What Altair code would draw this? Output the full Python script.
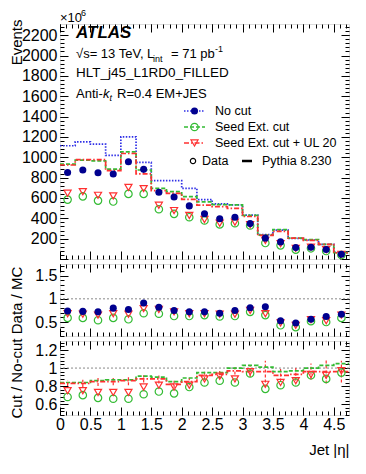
import altair as alt
import pandas as pd

FONT = "Liberation Sans"

# ---- data ----
edges = [0.0, 0.25, 0.5, 0.75, 1.0, 1.25, 1.5, 1.75, 2.0, 2.25, 2.5, 2.75,
         3.0, 3.25, 3.5, 3.75, 4.0, 4.25, 4.5, 4.75]

data_nocut = [851, 875, 848, 836, 956, 881, 656, 610, 522, 444, 395, 411, 348, 205, 168, 112, 116, 94, 46]
data_seed = [584, 616, 574, 565, 640, 640, 489, 444, 411, 379, 340, 352, 330, 157, 134, 92, 105, 78, 39]
data_ul20 = [646, 662, 626, 620, 704, 692, 528, 476, 428, 388, 352, 362, 337, 183, 150, 105, 117, 92, 46]
mc_nocut = [1113, 1152, 1129, 1018, 1201, 949, 770, 770, 695, 584, 542, 532, 431, 240, 284, 203, 187, 144, 65]
mc_seed = [933, 972, 965, 884, 1054, 875, 695, 662, 613, 561, 535, 532, 428, 235, 288, 205, 190, 144, 63]
mc_ul20 = [924, 976, 976, 868, 1037, 836, 672, 646, 587, 530, 515, 497, 418, 232, 271, 205, 183, 144, 60]

dmc_nocut = [0.74, 0.73, 0.72, 0.80, 0.77, 0.91, 0.82, 0.75, 0.72, 0.72, 0.69, 0.75, 0.81, 0.83, 0.53, 0.48, 0.56, 0.62, 0.67]
dmc_ul20 = [0.68, 0.67, 0.65, 0.68, 0.67, 0.79, 0.77, 0.72, 0.68, 0.68, 0.67, 0.67, 0.75, 0.68, 0.48, 0.43, 0.55, 0.53, 0.65]
dmc_seed = [0.59, 0.59, 0.54, 0.59, 0.56, 0.69, 0.68, 0.63, 0.63, 0.65, 0.62, 0.63, 0.72, 0.65, 0.43, 0.39, 0.52, 0.50, 0.59]

cut_data_seed = [0.68, 0.70, 0.67, 0.66, 0.66, 0.71, 0.74, 0.72, 0.79, 0.84, 0.86, 0.84, 0.94, 0.77, 0.81, 0.84, 0.92, 0.88, 0.95]
cut_data_ul20 = [0.75, 0.75, 0.73, 0.73, 0.73, 0.79, 0.81, 0.79, 0.81, 0.88, 0.91, 0.88, 0.96, 0.82, 0.84, 0.86, 0.93, 0.92, 0.97]
cut_mc_seed = [0.84, 0.84, 0.86, 0.87, 0.87, 0.91, 0.90, 0.85, 0.89, 0.95, 0.95, 1.00, 1.03, 1.01, 0.96, 0.97, 1.00, 1.03, 1.05]
cut_mc_ul20 = [0.83, 0.83, 0.85, 0.85, 0.86, 0.88, 0.88, 0.82, 0.85, 0.92, 0.93, 0.97, 0.96, 0.96, 0.92, 0.93, 0.96, 0.96, 0.96]
cut_mc_ul20_err = [0.03, 0.04, 0.05, 0.04, 0.05, 0.04, 0.05, 0.04, 0.04, 0.05, 0.05, 0.04, 0.06, 0.12, 0.07, 0.07, 0.09, 0.13, 0.12]

ref_one = [1.0]

# tick values
x_major = [0, 0.5, 1, 1.5, 2, 2.5, 3, 3.5, 4, 4.5]
x_minor = [round(0.1 * i, 2) for i in range(48)]
y_main_major = [0, 200, 400, 600, 800, 1000, 1200, 1400, 1600, 1800, 2000, 2200]
y_main_minor = [40 * i for i in range(58)]
y_main_labels = [200, 400, 600, 800, 1000, 1200, 1400, 1600, 1800, 2000, 2200]
y_r1_major = [0.5, 1, 1.5]
y_r1_minor = [round(0.2 + 0.1 * i, 2) for i in range(16)]
y_r2_major = [0.6, 0.8, 1, 1.2]
y_r2_minor = [round(0.48 + 0.04 * i, 2) for i in range(21)]

# colours
C_BLUE_D = "#00008f"
C_BLUE_L = "#3030e6"
C_GREEN = "#33bb33"
C_RED = "#ff3030"

W = 289
H_MAIN, H_R1, H_R2 = 235, 72, 74
TITLE_X = -39

XS = alt.Scale(domain=[0, 4.75], nice=False, zero=False)
YS_MAIN = alt.Scale(domain=[0, 2310], nice=False, zero=False)
YS_R1 = alt.Scale(domain=[0.2, 1.75], nice=False, zero=False)
YS_R2 = alt.Scale(domain=[0.48, 1.3], nice=False, zero=False)

ctr = [(a + b) / 2 for a, b in zip(edges[:-1], edges[1:])]
one = pd.DataFrame({"a": [0]})


def step(vals, ys, color, dash, width=1.7):
    df = pd.DataFrame({"x": edges, "y": list(vals) + [vals[-1]]})
    return alt.Chart(df).mark_line(interpolate="step-after", color=color,
                                   strokeDash=dash, strokeWidth=width).encode(
        x=alt.X("x:Q", scale=XS, axis=None),
        y=alt.Y("y:Q", scale=ys, axis=None))


def pts(vals, ys, shape, color, filled, size):
    df = pd.DataFrame({"x": ctr, "y": vals})
    if filled:
        m = alt.Chart(df).mark_point(shape=shape, filled=True, color=color,
                                     size=size, opacity=1)
    else:
        m = alt.Chart(df).mark_point(shape=shape, filled=False, color=color,
                                     size=size, strokeWidth=1.2, opacity=1)
    return m.encode(x=alt.X("x:Q", scale=XS, axis=None),
                    y=alt.Y("y:Q", scale=ys, axis=None))


def refline(ys):
    return alt.Chart(pd.DataFrame({"y": ref_one})).mark_rule(
        color="#888888", strokeDash=[2, 2], strokeWidth=1).encode(
        y=alt.Y("y:Q", scale=ys, axis=None))


def ax_chart(ys, yv, xaxis=None, yaxis=None):
    df = pd.DataFrame({"vx": [1.0], "vy": [yv]})
    return alt.Chart(df).mark_point(opacity=0).encode(
        x=alt.X("vx:Q", scale=XS, axis=xaxis),
        y=alt.Y("vy:Q", scale=ys, axis=yaxis))


def tick_layers(ys, ymaj, ymin, big=8, small=4):
    out = []
    for orient in ("left", "right"):
        for vals, sz in ((ymaj, big), (ymin, small)):
            out.append(ax_chart(ys, ymaj[1], yaxis=alt.Axis(
                orient=orient, offset=-sz, tickSize=sz, values=vals,
                labels=False, domain=False, grid=False, title=None,
                tickColor="black", tickWidth=1)))
    for orient in ("top", "bottom"):
        for vals, sz in ((x_major, big), (x_minor, small)):
            out.append(ax_chart(ys, ymaj[1], xaxis=alt.Axis(
                orient=orient, offset=-sz, tickSize=sz, values=vals,
                labels=False, domain=False, grid=False, title=None,
                tickColor="black", tickWidth=1)))
    return out


def ylabels(ys, vals, title, h, top_title=False):
    kw = dict(titleX=TITLE_X, titleAngle=-90, titleBaseline="alphabetic")
    if top_title:
        kw.update(titleY=-5, titleAlign="right")
    else:
        kw.update(titleY=h / 2, titleAlign="center")
    return ax_chart(ys, vals[0], yaxis=alt.Axis(
        orient="left", values=vals, ticks=False, domain=False, grid=False,
        labelFontSize=16, labelPadding=3, labelFlush=False, labelOverlap=False,
        labelExpr="'' + datum.value", labelColor="black", labelFont=FONT,
        title=title, titleFontSize=15, titleFontWeight="normal",
        titleColor="black", titleFont=FONT, **kw))


def xlabels(ys, yv):
    return ax_chart(ys, yv, xaxis=alt.Axis(
        orient="bottom", values=x_major, ticks=False, domain=False, grid=False,
        labelFontSize=16, labelPadding=1, labelFlush=False, labelOverlap=False,
        labelExpr="'' + datum.value", labelColor="black", labelFont=FONT,
        title="Jet |η|", titleFontSize=15, titleFontWeight="normal",
        titleColor="black", titleFont=FONT, titleX=W, titleY=39,
        titleAlign="right", titleBaseline="alphabetic"))


def txt(s, x, y, size=13, align="left", baseline="alphabetic", **kw):
    return alt.Chart(one).mark_text(text=s, align=align, baseline=baseline,
                                    fontSize=size, font=FONT, color="black", **kw).encode(
        x=alt.value(x), y=alt.value(y))


def seg(x1, x2, y, color, dash, width=1.7):
    return alt.Chart(one).mark_rule(color=color, strokeDash=dash, strokeWidth=width).encode(
        x=alt.value(x1), x2=alt.value(x2), y=alt.value(y))


def sym(x, y, shape, color, filled, size):
    if filled:
        m = alt.Chart(one).mark_point(shape=shape, filled=True, color=color, size=size, opacity=1)
    else:
        m = alt.Chart(one).mark_point(shape=shape, filled=False, color=color, size=size,
                                      strokeWidth=1.2, opacity=1)
    return m.encode(x=alt.value(x), y=alt.value(y))


DOT = [1.5, 1.5]
DASH = [4, 2]
DASHDOT = [5, 2, 1.5, 2]

# ---- main panel ----
main_layers = [
    step(mc_nocut, YS_MAIN, C_BLUE_L, DOT),
    step(mc_seed, YS_MAIN, C_GREEN, DASH),
    step(mc_ul20, YS_MAIN, C_RED, DASHDOT),
    pts(data_seed, YS_MAIN, "circle", C_GREEN, False, 55),
    pts(data_ul20, YS_MAIN, "triangle-down", C_RED, False, 50),
    pts(data_nocut, YS_MAIN, "circle", C_BLUE_D, True, 50),
    # annotations
    txt("ATLAS", 16, 14, size=17, fontStyle="italic", fontWeight="bold"),
    txt("√s= 13 TeV, L", 16, 34),
    txt("int", 93, 37.5, size=9),
    txt("= 71 pb", 111, 34),
    txt("-1", 155, 28, size=9),
    txt("HLT_j45_L1RD0_FILLED", 16, 53, size=13.5),
    txt("Anti-", 16, 73.5),
    txt("k", 43, 73.5, fontStyle="italic"),
    txt("t", 49.5, 76.5, size=9, fontStyle="italic"),
    txt("R=0.4 EM+JES", 57, 73.5),
    txt("×10", 0, -2, size=13),
    txt("6", 21, -8, size=9),
    # legend
    seg(124, 145, 87, C_BLUE_L, DOT),
    sym(134.5, 87, "circle", C_BLUE_D, True, 50),
    txt("No cut", 155, 87, size=12.5, baseline="middle"),
    seg(124, 145, 103, C_GREEN, DASH),
    sym(134.5, 103, "circle", C_GREEN, False, 55),
    txt("Seed Ext. cut", 155, 103, size=12.5, baseline="middle"),
    seg(124, 145, 119, C_RED, DASHDOT),
    sym(134.5, 119, "triangle-down", C_RED, False, 50),
    txt("Seed Ext. cut + UL 20", 155, 119, size=12.5, baseline="middle"),
    sym(133, 137, "circle", "black", False, 28),
    txt("Data", 142, 137, size=12.5, baseline="middle"),
    seg(182, 192, 137, "black", [1, 0], width=2.5),
    txt("Pythia 8.230", 202, 137, size=12.5, baseline="middle"),
    ylabels(YS_MAIN, y_main_labels, "Events", H_MAIN, top_title=True),
] + tick_layers(YS_MAIN, y_main_major, y_main_minor)

main = alt.layer(*main_layers).properties(width=W, height=H_MAIN).resolve_axis(
    x="independent", y="independent")

# ---- Data / MC panel ----
r1_layers = [
    refline(YS_R1),
    pts(dmc_seed, YS_R1, "circle", C_GREEN, False, 55),
    pts(dmc_ul20, YS_R1, "triangle-down", C_RED, False, 50),
    pts(dmc_nocut, YS_R1, "circle", C_BLUE_D, True, 50),
    ylabels(YS_R1, y_r1_major, "Data / MC", H_R1),
] + tick_layers(YS_R1, y_r1_major, y_r1_minor)

r1 = alt.layer(*r1_layers).properties(width=W, height=H_R1).resolve_axis(
    x="independent", y="independent")

# ---- Cut / No-cut panel ----
err_df = pd.DataFrame({
    "x": ctr,
    "lo": [v - e for v, e in zip(cut_mc_ul20, cut_mc_ul20_err)],
    "hi": [v + e for v, e in zip(cut_mc_ul20, cut_mc_ul20_err)],
})
err = alt.Chart(err_df).mark_rule(color=C_RED, strokeDash=[3, 2], strokeWidth=1.2).encode(
    x=alt.X("x:Q", scale=XS, axis=None),
    y=alt.Y("lo:Q", scale=YS_R2, axis=None), y2="hi:Q")

r2_layers = [
    refline(YS_R2),
    err,
    step(cut_mc_seed, YS_R2, C_GREEN, DASH),
    step(cut_mc_ul20, YS_R2, C_RED, DASHDOT),
    pts(cut_data_seed, YS_R2, "circle", C_GREEN, False, 55),
    pts(cut_data_ul20, YS_R2, "triangle-down", C_RED, False, 50),
    ylabels(YS_R2, y_r2_major, "Cut / No-cut", H_R2),
    xlabels(YS_R2, 1.0),
] + tick_layers(YS_R2, y_r2_major, y_r2_minor)

r2 = alt.layer(*r2_layers).properties(width=W, height=H_R2).resolve_axis(
    x="independent", y="independent")

chart = alt.vconcat(main, r1, r2, spacing=5, bounds="flush").properties(
    padding=0).configure_view(
    stroke="black", strokeWidth=1).configure(font=FONT, background="white")

chart.save("out.html", embed_options={"renderer": "svg", "actions": False})
